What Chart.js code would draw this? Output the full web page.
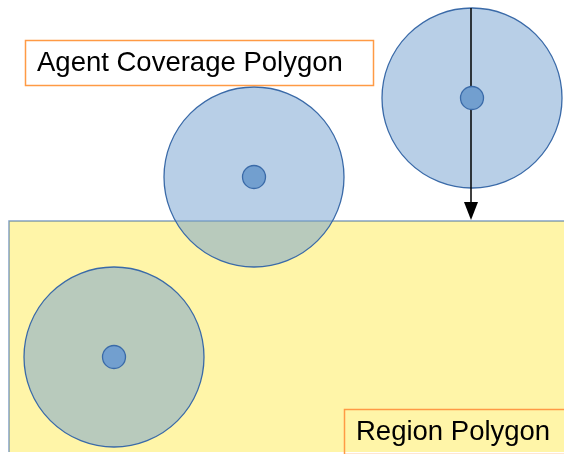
<!DOCTYPE html>
<html>
<head>
<meta charset="utf-8">
<script src="https://cdn.jsdelivr.net/npm/chart.js@4/dist/chart.umd.min.js"></script>
<style>
  html, body { margin: 0; padding: 0; background: #fff; }
  #wrap { width: 564px; height: 454px; }
</style>
</head>
<body>
<div id="wrap"><canvas id="c"></canvas></div>
<script>
// region polygon corners (x, y in page units)
const regionX = [9, 9, 600, 600];
const regionY = [452, 221, 221, 452];

// agent coverage circles: centre + radius
const agentX = [254, 472, 114];
const agentY = [177, 98, 357];
const agentR = [90, 90, 90];
const dotR = [11.5, 11.5, 11.5];

// motion arrow of the top-right agent
const arrowX = [471, 471];
const arrowY = [8, 220];

// label boxes
const labels = ['Agent Coverage Polygon', 'Region Polygon'];
const labelX = [25, 344];
const labelY = [40, 409];
const labelW = [348, 240];
const labelH = [45, 45];

const blueFill = 'rgba(114,159,207,0.5)';
const blueLine = '#3a6aa8';

const labelPlugin = {
  id: 'labelsAndArrow',
  beforeDatasetDraw(chart, args) {
    // arrow sits under the agent dots
    if (args.index !== 2) return;
    const ctx = chart.ctx;
    const xs = chart.scales.x, ys = chart.scales.y;
    const ax = xs.getPixelForValue(arrowX[0]);
    const y0 = ys.getPixelForValue(arrowY[0]);
    const y1 = ys.getPixelForValue(arrowY[1]);
    ctx.save();
    ctx.strokeStyle = '#000';
    ctx.lineWidth = 1.5;
    ctx.beginPath();
    ctx.moveTo(ax, y0);
    ctx.lineTo(ax, y1 - 16);
    ctx.stroke();
    ctx.fillStyle = '#000';
    ctx.beginPath();
    ctx.moveTo(ax - 7, y1 - 18);
    ctx.lineTo(ax + 7, y1 - 18);
    ctx.lineTo(ax, y1);
    ctx.closePath();
    ctx.fill();
    ctx.restore();
  },
  afterDatasetsDraw(chart) {
    const ctx = chart.ctx;
    const xs = chart.scales.x, ys = chart.scales.y;
    ctx.save();
    labels.forEach((t, i) => {
      const x = xs.getPixelForValue(labelX[i]);
      const y = ys.getPixelForValue(labelY[i]);
      if (i === 0) {
        ctx.fillStyle = '#fff';
        ctx.fillRect(x, y, labelW[i], labelH[i]);
      }
      ctx.strokeStyle = '#ff9a45';
      ctx.lineWidth = 1.5;
      ctx.strokeRect(x + 0.5, y + 0.5, labelW[i], labelH[i]);
      ctx.fillStyle = '#000';
      ctx.font = '27.5px "Liberation Sans", Arial, sans-serif';
      ctx.textBaseline = 'middle';
      ctx.fillText(t, x + 12, y + labelH[i] / 2 + 1);
    });
    ctx.restore();
  }
};

new Chart(document.getElementById('c'), {
  type: 'bubble',
  data: {
    datasets: [
      {
        type: 'line',
        order: 5,
        data: regionX.map((x, i) => ({ x: x, y: regionY[i] })),
        borderColor: 'rgba(52,101,164,0.6)',
        borderWidth: 1.5,
        backgroundColor: '#fff5a8',
        fill: { value: 452 },
        pointRadius: 0,
        tension: 0
      },
      {
        order: 3,
        data: agentX.map((x, i) => ({ x: x, y: agentY[i], r: agentR[i] })),
        backgroundColor: blueFill,
        borderColor: blueLine,
        borderWidth: 1.3
      },
      {
        order: 1,
        data: agentX.map((x, i) => ({ x: x, y: agentY[i], r: dotR[i] })),
        backgroundColor: '#729fcf',
        borderColor: blueLine,
        borderWidth: 1.3
      }
    ]
  },
  options: {
    responsive: true,
    maintainAspectRatio: false,
    animation: false,
    layout: { padding: 0, autoPadding: false },
    plugins: { legend: { display: false }, tooltip: { enabled: false } },
    scales: {
      x: { type: 'linear', min: 0, max: 564, display: false },
      y: { type: 'linear', min: 0, max: 454, reverse: true, display: false }
    }
  },
  plugins: [labelPlugin]
});
</script>
</body>
</html>
